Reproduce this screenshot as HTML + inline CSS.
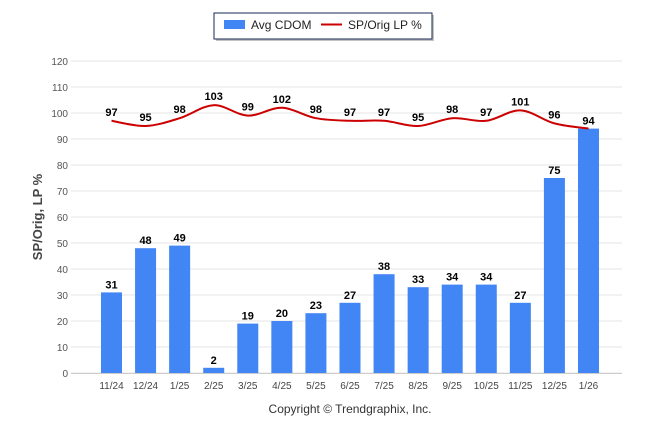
<!DOCTYPE html>
<html><head><meta charset="utf-8"><style>
body{margin:0;background:#fff;width:646px;height:434px;overflow:hidden;font-family:"Liberation Sans",Arial,sans-serif}
</style></head><body>
<svg id="c" width="646" height="434" xmlns="http://www.w3.org/2000/svg">
<rect x="216" y="15" width="218" height="26" fill="#888" opacity="0.5"/>
<rect x="214" y="13" width="218" height="26" fill="#fff" stroke="#1a2a55" stroke-width="1"/>
<rect x="224" y="20" width="21" height="9" fill="#4285f4"/>
<text x="251" y="29" font-size="12" fill="#222">Avg CDOM</text>
<line x1="321" y1="24.5" x2="342" y2="24.5" stroke="#cc0000" stroke-width="2"/>
<text x="348" y="29" font-size="12" fill="#222">SP/Orig LP %</text>
<text transform="translate(42,217) rotate(-90)" text-anchor="middle" font-size="13" font-weight="bold" fill="#444">SP/Orig, LP %</text>
<text x="350" y="413" text-anchor="middle" font-size="12" fill="#333">Copyright © Trendgraphix, Inc.</text>
<g id="grid"></g><g id="bars"></g><g id="line"></g><g id="labels"></g>
</svg>
<script>
const categories=["11/24","12/24","1/25","2/25","3/25","4/25","5/25","6/25","7/25","8/25","9/25","10/25","11/25","12/25","1/26"];
const cdom=[31,48,49,2,19,20,23,27,38,33,34,34,27,75,94];
const splp=[97,95,98,103,99,102,98,97,97,95,98,97,101,96,94];
const yTicks=[0,10,20,30,40,50,60,70,80,90,100,110,120];
const NS="http://www.w3.org/2000/svg";
const y=v=>373-v*(312/120);
const x=i=>111.5+i*34.07;
function mk(t,a,p){const e=document.createElementNS(NS,t);for(const k in a)e.setAttribute(k,a[k]);document.getElementById(p).appendChild(e);return e;}
yTicks.forEach(v=>{
 const l=mk('line',{x1:71,x2:622,y1:y(v),y2:y(v),stroke:'#e6e6e6','stroke-width':1},'grid');
 
 
 const t=mk('text',{x:68,y:y(v)+4,'text-anchor':'end','font-size':10,fill:'#555'},'grid');t.textContent=v;
 
 
});
const ax=mk('line',{x1:71,x2:622,y1:373.5,y2:373.5,stroke:'#ccc'},'grid');


categories.forEach((c,i)=>{
 const t=mk('text',{x:x(i),y:389,'text-anchor':'middle','font-size':10,fill:'#444'},'grid');t.textContent=c;
 
 
 const b=mk('rect',{x:x(i)-10.5,y:y(cdom[i]),width:21,height:373-y(cdom[i]),fill:'#4285f4'},'bars');
 
 
 const bl=mk('text',{x:x(i),y:y(cdom[i])-4,'text-anchor':'middle','font-size':11,'font-weight':'bold',fill:'#000'},'labels');bl.textContent=cdom[i];
 
 
 if(Math.abs((y(splp[i])-5)-(y(cdom[i])-4))>14){
  const ll=mk('text',{x:x(i),y:y(splp[i])-5,'text-anchor':'middle','font-size':11,'font-weight':'bold',fill:'#000'},'labels');ll.textContent=splp[i];
  
  
 }
});
const P=splp.map((v,i)=>[x(i),y(v)]);
let d='M'+P[0][0]+','+P[0][1];
for(let i=0;i<P.length-1;i++){
 const p0=P[i-1]||P[i],p1=P[i],p2=P[i+1],p3=P[i+2]||p2;
 const c1=[p1[0]+(p2[0]-p0[0])/6,p1[1]+(p2[1]-p0[1])/6],c2=[p2[0]-(p3[0]-p1[0])/6,p2[1]-(p3[1]-p1[1])/6];
 d+=` C${c1[0]},${c1[1]} ${c2[0]},${c2[1]} ${p2[0]},${p2[1]}`;
}
const ln=mk('path',{d:d,fill:'none',stroke:'#cc0000','stroke-width':2},'line');


</script>
</body></html>
